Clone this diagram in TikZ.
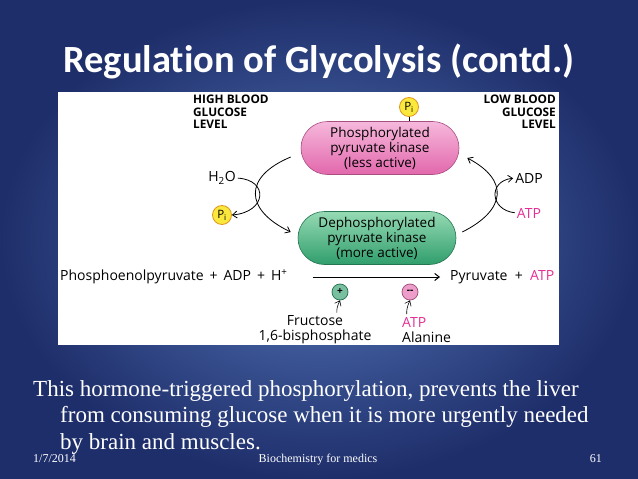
\documentclass[tikz,border=0pt]{standalone}
\usepackage{fontspec}
\setmainfont{Liberation Serif}
\newfontfamily\slidetitlefont[Ligatures=NoCommon]{Carlito}
\newfontfamily\figfont{Open Sans}
\usetikzlibrary{positioning,arrows.meta,shapes.misc,calc}
\definecolor{slideedge}{RGB}{30,46,106}
\definecolor{slidemid}{RGB}{86,120,188}
\definecolor{kinpink}{RGB}{226,104,172}
\definecolor{kinpinklt}{RGB}{246,184,220}
\definecolor{kingreen}{RGB}{48,158,108}
\definecolor{kingreenlt}{RGB}{150,218,180}
\definecolor{piyellow}{RGB}{250,232,60}
\definecolor{piborder}{RGB}{222,150,30}
\definecolor{atpmag}{RGB}{228,48,150}

\begin{document}
\begin{tikzpicture}[
    x=1pt, y=-1pt,
    fig/.style={font=\figfont\fontsize{14}{15}\selectfont, inner sep=0pt},
    hdr/.style={font=\figfont\bfseries\fontsize{11.8}{12.5}\selectfont, inner sep=0pt},
    kinase/.style={rounded rectangle, draw=#1!75!black, line width=0.6pt,
                   top color=#1lt, bottom color=#1, align=center,
                   minimum width=158pt, minimum height=53pt, inner sep=0pt,
                   font=\figfont\fontsize{13.5}{15}\selectfont},
    pibox/.style={circle, draw=piborder, fill=piyellow, line width=0.8pt,
                  minimum size=19pt, inner sep=0pt,
                  font=\figfont\fontsize{11.5}{11.5}\selectfont},
    effector/.style={circle, draw=#1!70!black, fill=#1!65!white, line width=0.7pt,
                     minimum size=16pt, inner sep=0pt,
                     font=\figfont\bfseries\fontsize{10}{10}\selectfont},
    arr/.style={-{Straight Barb[length=4.5pt, width=7pt]}, line width=0.8pt},
    body/.style={font=\fontsize{23}{26.5}\selectfont, text=white, align=left, inner sep=0pt},
    foot/.style={font=\fontsize{12}{14}\selectfont, text=white, inner sep=0pt},
]
% ---- Slide ----
\shade[inner color=slidemid, outer color=slideedge] (0,0) rectangle (638,479);
\node[font=\slidetitlefont\bfseries\fontsize{38.5}{44}\selectfont, text=white]
     (title) at (319,61) {Regulation of Glycolysis (contd.)};
\node[fill=white, anchor=north west, minimum width=501pt, minimum height=253pt,
      inner sep=0pt] (panel) at (58,92) {};

% ---- Kinase cycle ----
\node[hdr, align=left,  anchor=north west] (high) at (193,95) {HIGH BLOOD\\GLUCOSE\\LEVEL};
\node[hdr, align=right, anchor=north east] (low)  at (556,95) {LOW BLOOD\\GLUCOSE\\LEVEL};

\node[kinase=kinpink]  (phos)   at (380,148) {Phosphorylated\\pyruvate kinase\\(less active)};
\node[kinase=kingreen] (dephos) at (377,238) {Dephosphorylated\\pyruvate kinase\\(more active)};
\node[pibox] (pitop) at (409,107) {P\textsubscript{i}};
\draw[line width=0.7pt] (pitop.south) -- (pitop.south |- phos.north);

\node[fig] (h2o)  at (222,178) {H\textsubscript{2}O};
\node[pibox] (pifree) at (222,215) {P\textsubscript{i}};
\node[fig] (adp)  at (529,178) {ADP};
\node[fig, text=atpmag] (atpin) at (529,213) {ATP};

\draw[arr] ([shift={(-10,9)}]phos.west) .. controls +(-48,20) and +(-46,-22) .. ([shift={(-7,-6)}]dephos.west);
\draw[arr, shorten <=2pt] (h2o.east) .. controls +(33,2) and +(35,-3) .. (pifree.east);
\draw[arr] ([shift={(6,-6)}]dephos.east) .. controls +(44,-22) and +(42,22) .. ([shift={(8,10)}]phos.east);
\draw[arr, shorten <=2pt, shorten >=2pt] (atpin.west) .. controls +(-27,-3) and +(-27,3) .. (adp.west);

% ---- Reaction ----
\node[fig, anchor=west, text height=10pt, text depth=3pt] (pep) at (60,277)
     {Phosphoenolpyruvate \,+\, ADP \,+\, H\textsuperscript{+}};
\node[fig, anchor=west, text height=10pt, text depth=3pt] (pyr) at (450,277)
     {Pyruvate \ + \ \textcolor{atpmag}{ATP}};
\draw[arr, line width=1pt, shorten <=25pt, shorten >=10pt] (pep.east) -- (pyr.west);

\node[effector=kingreen] (plus)  at (340,292) {+};
\node[effector=kinpink]  (minus) at (410,292) {\raisebox{1pt}{--}};
\node[fig, align=center] (fru)   at (315,330) {Fructose\\1,6-bisphosphate};
\node[fig, align=left, anchor=west] (inhib) at (402,330) {\textcolor{atpmag}{ATP}\\Alanine};
\draw[arr, line width=0.6pt, shorten <=3pt] ([xshift=-3pt]plus.south |- fru.north) to[bend left=15] (plus.south);
\draw[arr, line width=0.6pt, shorten <=3pt] ([xshift=-3pt]minus.south |- inhib.north) to[bend left=15] (minus.south);

% ---- Text ----
\node[body, anchor=north west] (note) at (33,380)
     {This hormone-triggered phosphorylation, prevents the liver\\
      \hspace*{27pt}from consuming glucose when it is more urgently needed\\
      \hspace*{27pt}by brain and muscles.};
\node[foot, anchor=base west] (date)  at (33,462)  {1/7/2014};
\node[foot, anchor=base]      (topic) at (318,462) {Biochemistry for medics};
\node[foot, anchor=base east] (page)  at (602,462) {61};
\end{tikzpicture}
\end{document}
